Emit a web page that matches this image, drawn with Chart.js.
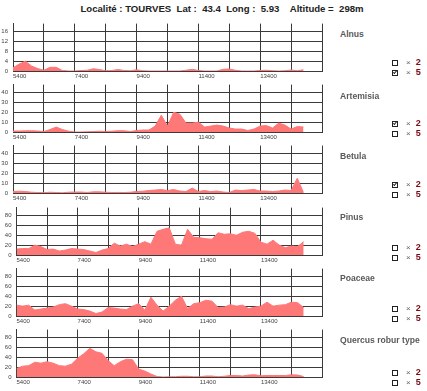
<!DOCTYPE html>
<html>
<head>
<meta charset="utf-8">
<script src="https://cdn.jsdelivr.net/npm/chart.js@4.4.1/dist/chart.umd.min.js"></script>
<style>
body { margin:0; background:#fff; width:427px; height:391px; overflow:hidden; position:relative; font-family:"Liberation Sans", Arial, sans-serif; }
#title { position:absolute; top:3px; left:222px; transform:translateX(-50%); font-weight:bold; font-size:9.6px; color:#222; white-space:pre; }
canvas { position:absolute; left:0; }
.name { position:absolute; left:340px; font-weight:bold; font-size:8.6px; color:#5a5a5a; white-space:nowrap; }
.opt { position:absolute; left:392px; height:9px; line-height:9px; white-space:nowrap; }
.box { display:inline-block; position:relative; width:4px; height:4px; border:1.2px solid #222; background:#fff; vertical-align:middle; }
.box.on::after { content:""; position:absolute; left:1px; top:-0.6px; width:1.4px; height:2.8px; border-right:1.1px solid #222; border-bottom:1.1px solid #222; transform:rotate(40deg); }
.x { font-size:8px; color:#666; margin-left:8px; vertical-align:middle; }
.n { font-size:9px; font-weight:bold; color:#7a0a14; margin-left:5px; vertical-align:middle; }
</style>
</head>
<body>
<div id="title">Localité : TOURVES  Lat :  43.4  Long :  5.93    Altitude =  298m</div>
<div id="wrap"></div>
<script>
// ages (years) of the samples, shared by every taxon
const ages = [5400, 5600, 5800, 6000, 6200, 6400, 6600, 6800, 7000, 7200, 7400, 7600,
    7800, 8000, 8200, 8400, 8600, 8800, 9000, 9200, 9400, 9600, 9800, 10000,
    10200, 10400, 10600, 10800, 11000, 11200, 11400, 11600, 11800, 12000, 12200, 12400,
    12600, 12800, 13000, 13200, 13400, 13600, 13800, 14000, 14200, 14400, 14600, 14800];

const alnus = [1.3, 2.8, 4.0, 2.0, 1.0, 0.3, 1.5, 1.5, 0.2, 0, 0, 0.2, 0.3, 0.9, 0.6, 0.1,
    0.2, 0.6, 0.2, 0.1, 0.5, 0.1, 0, 0, 0, 0, 0, 0, 0.3, 0.7, 0.2, 0, 0, 0, 0.7, 0.8,
    0.3, 0, 0, 0, 0.2, 0.3, 0.1, 0, 0.1, 0.4, 0.1, 0.5];
const artemisia = [1, 1, 1.2, 1.3, 1, 0.4, 2.5, 5, 2.5, 0.8, 0, 0, 0.2, 0.5, 0.8, 0.5,
    0.8, 1.3, 1.2, 0.5, 1.5, 2, 2, 6, 17, 6, 20, 18, 9, 9, 10, 5, 6, 7, 6, 4, 3, 3, 1.5, 3,
    6, 6.5, 4, 9, 7, 3, 5.5, 5];
const betula = [1.5, 1.8, 1.5, 0.8, 0.5, 0.3, 0.8, 0.5, 0.2, 0.8, 1, 1, 0.6, 1.2, 1.2, 0.8,
    0.5, 0.6, 0.5, 0.8, 1.5, 1.8, 2.5, 3, 3.5, 2.5, 3.5, 2, 1.5, 5, 1.5, 2.5, 1.5, 2, 1, 0.5,
    3, 2.5, 3, 3.5, 2, 2, 1.5, 2, 3, 2.5, 15, 0.5];
const pinus = [12, 13, 13, 20, 17, 11, 12, 8, 10, 13, 12, 11, 8, 5, 10, 13, 24, 18, 22, 17,
    22, 27, 22, 48, 52, 55, 22, 20, 52, 36, 35, 33, 32, 45, 42, 43, 40, 46, 48, 44, 26, 22,
    30, 20, 15, 18, 17, 27];
const poaceae = [22, 20, 22, 12, 14, 16, 18, 23, 25, 20, 14, 13, 10, 5, 8, 17, 16, 14, 13, 20,
    25, 12, 38, 22, 10, 20, 32, 40, 15, 25, 27, 32, 30, 17, 18, 23, 20, 22, 15, 18, 20, 28,
    20, 22, 23, 28, 27, 17];
const quercus = [17, 22, 23, 30, 28, 31, 28, 23, 22, 26, 38, 47, 58, 51, 48, 33, 23, 31, 36, 35,
    16, 12, 6, 1, 0, 0.5, 0.5, 1.5, 1.5, 0.5, 0.5, 2, 2, 0.5, 1.5, 3, 3, 2, 4, 4.5, 2.5, 3,
    3, 3, 3, 4.5, 4, 1];

const taxa = ['Alnus', 'Artemisia', 'Betula', 'Pinus', 'Poaceae', 'Quercus robur type'];
const series = [alnus, artemisia, betula, pinus, poaceae, quercus];
const yTicks = [[0, 4, 8, 12, 16], [0, 10, 20, 30, 40], [0, 10, 20, 30, 40],
    [0, 20, 40, 60, 80], [0, 20, 40, 60, 80], [0, 20, 40, 60, 80]];
const xGrid = [5400, 6400, 7400, 8400, 9400, 10400, 11400, 12400, 13400, 14400, 15400];
const xLabels = [5400, 7400, 9400, 11400, 13400];
const times2 = [false, true, true, false, false, false];
const times5 = [true, false, false, false, false, false];

const plotTop = [23, 84, 145, 207, 268, 329];
const axisW = [13, 13, 13, 16.5, 16.5, 16.5];
const nameTop = [29, 91, 151, 212, 273, 335];
const optTop = [57, 118, 179, 242, 303, 367];

const wrap = document.getElementById('wrap');
const fill = '#ff7878';
const gridCol = '#3a3a3a';

series.forEach((vals, k) => {
    const cv = document.createElement('canvas');
    cv.width = 330; cv.height = 66;
    cv.style.top = (plotTop[k] - 8) + 'px';
    cv.style.width = '330px'; cv.style.height = '66px';
    wrap.appendChild(cv);

    const top = yTicks[k][yTicks[k].length - 1];
    new Chart(cv.getContext('2d'), {
        type: 'line',
        data: {
            datasets: [{
                data: ages.map((a, i) => ({ x: a, y: vals[i] })),
                fill: 'origin',
                backgroundColor: fill,
                borderColor: fill,
                borderWidth: 1,
                pointRadius: 0,
                tension: 0
            }]
        },
        options: {
            responsive: false,
            animation: false,
            layout: { padding: { top: 8, right: 8, left: 0, bottom: 0 } },
            plugins: { legend: { display: false }, tooltip: { enabled: false } },
            scales: {
                x: {
                    type: 'linear', min: 5400, max: 15400,
                    afterBuildTicks: s => { s.ticks = xGrid.map(v => ({ value: v })); },
                    afterFit: s => { s.height = 10; },
                    grid: { color: gridCol, drawTicks: false },
                    border: { color: gridCol },
                    ticks: {
                        autoSkip: false, maxRotation: 0, align: 'start', padding: 2,
                        color: '#444', font: { size: 6, family: 'Liberation Sans' },
                        callback: v => xLabels.includes(v) ? String(v) : ''
                    }
                },
                y: {
                    min: 0, max: top * 1.2,
                    afterBuildTicks: s => { s.ticks = yTicks[k].map(v => ({ value: v })); },
                    afterFit: s => { s.width = axisW[k]; },
                    grid: { color: gridCol, drawTicks: false },
                    border: { color: gridCol },
                    ticks: { padding: 5, color: '#444', font: { size: 6, family: 'Liberation Sans' } }
                }
            }
        }
    });

    const nm = document.createElement('div');
    nm.className = 'name';
    nm.style.top = nameTop[k] + 'px';
    nm.textContent = taxa[k];
    wrap.appendChild(nm);

    [[times2[k], '2'], [times5[k], '5']].forEach(([on, n], j) => {
        const o = document.createElement('div');
        o.className = 'opt';
        o.style.top = (optTop[k] + j * 10) + 'px';
        o.innerHTML = `<span class="box${on ? ' on' : ''}"></span><span class="x">×</span><span class="n">${n}</span>`;
        wrap.appendChild(o);
    });
});
</script>
</body>
</html>
